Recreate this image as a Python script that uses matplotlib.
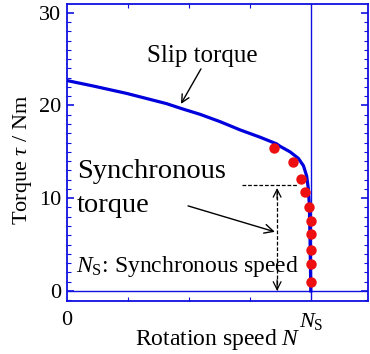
import numpy as np
import matplotlib
matplotlib.use('Agg')
import matplotlib.pyplot as plt
from matplotlib.ticker import MultipleLocator

plt.rcParams['font.family'] = ['Liberation Serif', 'DejaVu Serif']
plt.rcParams['mathtext.fontset'] = 'custom'
plt.rcParams['mathtext.rm'] = 'Liberation Serif'
plt.rcParams['mathtext.it'] = 'Liberation Serif:italic'

# slip torque curve (speed in units of N_S, torque in Nm)
curve_n = [0.0, 0.108, 0.245, 0.408, 0.47, 0.545, 0.627, 0.709, 0.791, 0.859,
           0.873, 0.914, 0.948, 0.969, 0.982, 0.989, 0.993, 0.996, 0.999]
curve_t = [22.69, 22.1, 21.3, 20.2, 19.66, 19.05, 18.26, 17.37, 16.58, 15.86,
           15.6, 15.0, 14.3, 13.5, 12.4, 11.0, 9.3, 5.5, 0.0]

# measured points
meas_n = [0.848, 0.928, 0.957, 0.976, 0.991, 0.998, 1.0, 1.0, 1.0, 1.0]
meas_t = [15.4, 13.86, 12.08, 10.66, 9.1, 7.5, 6.1, 4.42, 2.9, 1.0]

sync_t = 11.4   # synchronous torque level

blue = '#1010e0'

fig = plt.figure(figsize=(3.70, 3.54), dpi=100)
ax = fig.add_axes([0.181, 0.150, 0.814, 0.839])

ax.axhline(0, color=blue, lw=1.0, zorder=1)
ax.axvline(1.0, color=blue, lw=1.0, zorder=1)
ax.plot(curve_n, curve_t, color='#0000dd', lw=2.3, zorder=3,
        solid_joinstyle='round')
ax.plot(meas_n, meas_t, 'o', color='#ee1010', ms=7.5, mec='none', zorder=4)

ax.set_xlim(0, 1.234)
ax.set_ylim(-1.08, 30.96)

for s in ax.spines.values():
    s.set_color(blue)
    s.set_linewidth(1.3)

ax.set_yticks([0, 10, 20, 30])
ax.yaxis.set_minor_locator(MultipleLocator(1))
ax.set_xticks([0, 1])
ax.set_xticklabels(['0', r'$N_{\mathrm{S}}$'])
ax.set_xticks([0.25, 0.5, 0.75], minor=True)
ax.tick_params(axis='both', which='both', direction='in', color=blue,
               top=True, right=True, labelsize=16)
ax.tick_params(axis='y', which='major', length=5, width=1.2, pad=4)
ax.tick_params(axis='y', which='minor', length=3, width=0.8)
ax.tick_params(axis='x', which='major', length=0, pad=7)
ax.tick_params(axis='x', which='minor', length=3, width=0.8)

ax.set_ylabel(r'Torque $\tau$ / Nm', fontsize=16, labelpad=4)
ax.yaxis.label.set_y(0.475)
ax.set_xlabel(r'Rotation speed $N$', fontsize=17, labelpad=-3)

# annotations
ax.text(0.328, 24.7, 'Slip torque', fontsize=18, va='baseline')
ax.annotate('', xy=(0.467, 20.17), xytext=(0.549, 23.95),
            arrowprops=dict(arrowstyle='->', color='black', lw=1.0,
                            shrinkA=0, shrinkB=0, mutation_scale=14))

ax.text(0.041, 12.2, 'Synchronous', fontsize=20.5, va='baseline')
ax.text(0.041, 8.5, 'torque', fontsize=20.5, va='baseline')
ax.annotate('', xy=(0.852, 6.37), xytext=(0.496, 9.17),
            arrowprops=dict(arrowstyle='->', color='black', lw=1.0,
                            shrinkA=0, shrinkB=0, mutation_scale=16))

ax.plot([0.717, 0.947], [sync_t, sync_t], color='black', lw=0.9, ls=(0, (3, 1.5)))
ax.plot([0.861, 0.861], [0.1, sync_t - 0.4], color='black', lw=0.9, ls=(0, (3, 1.5)))
ax.annotate('', xy=(0.861, sync_t - 0.3), xytext=(0.861, sync_t - 1.5),
            arrowprops=dict(arrowstyle='->', color='black', lw=0.9,
                            shrinkA=0, shrinkB=0, mutation_scale=14))
ax.annotate('', xy=(0.861, 0.0), xytext=(0.861, 1.2),
            arrowprops=dict(arrowstyle='->', color='black', lw=0.9,
                            shrinkA=0, shrinkB=0, mutation_scale=14))

ax.text(0.037, 2.05, r'$N_{\mathrm{S}}$: Synchronous speed', fontsize=17,
        va='baseline')

fig.savefig('out.png', dpi=100)
